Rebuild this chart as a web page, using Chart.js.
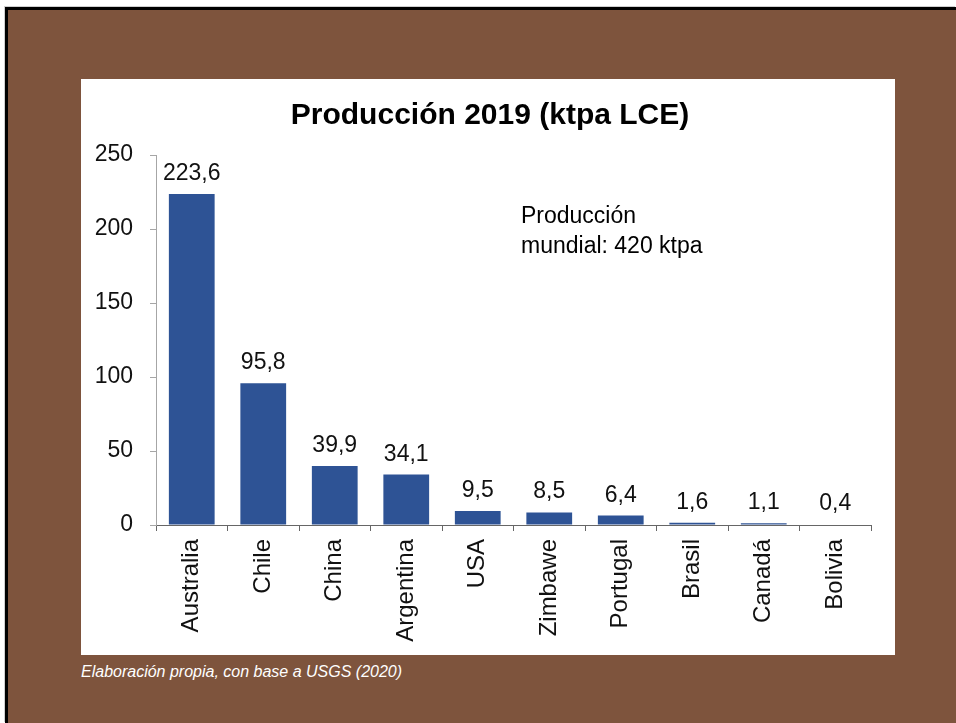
<!DOCTYPE html>
<html>
<head>
<meta charset="utf-8">
<script src="https://cdn.jsdelivr.net/npm/chart.js@4/dist/chart.umd.min.js"></script>
<style>
  html, body { margin: 0; padding: 0; background: #ffffff; width: 956px; height: 723px; overflow: hidden; }
  #frame {
    position: absolute; left: 5px; top: 7px; right: 0; bottom: 0;
    background: #7E543D;
    border-top: 3px solid #000; border-left: 3px solid #000;
    box-shadow: -1px -1px 0 #cfcfcf;
  }
  #panel { position: absolute; left: 81px; top: 79px; width: 814px; height: 576px; background: #ffffff; }
  #caption {
    position: absolute; left: 81px; top: 662px;
    font-family: 'Liberation Sans', Arial, sans-serif; font-style: italic; font-size: 16px;
    color: #ffffff; white-space: nowrap; line-height: 20px;
  }
</style>
</head>
<body>
<div id="frame"></div>
<div id="panel"><canvas id="c" width="814" height="576"></canvas></div>
<div id="caption">Elaboración propia, con base a USGS (2020)</div>
<script>
const categories = ['Australia', 'Chile', 'China', 'Argentina', 'USA', 'Zimbawe', 'Portugal', 'Brasil', 'Canadá', 'Bolivia'];
const production = [223.6, 95.8, 39.9, 34.1, 9.5, 8.5, 6.4, 1.6, 1.1, 0.4];
const yTickValues = [0, 50, 100, 150, 200, 250];
const chartTitle = 'Producción 2019 (ktpa LCE)';
const noteLines = ['Producción', 'mundial: 420 ktpa'];

const FONT = "'Liberation Sans', Arial, sans-serif";
const fmt = v => v.toFixed(1).replace('.', ',');

const textPlugin = {
  id: 'textPlugin',
  afterDatasetsDraw(chart) {
    const ctx = chart.ctx;
    ctx.save();
    // data labels
    const meta = chart.getDatasetMeta(0);
    ctx.fillStyle = '#111111';
    ctx.font = '23px ' + FONT;
    ctx.textAlign = 'center';
    ctx.textBaseline = 'alphabetic';
    meta.data.forEach((bar, i) => {
      ctx.fillText(fmt(production[i]), bar.x, bar.y - 14);
    });
    // title
    ctx.font = 'bold 30px ' + FONT;
    ctx.fillStyle = '#000000';
    ctx.textBaseline = 'middle';
    ctx.fillText(chartTitle, chart.width / 2 + 2, 37);
    // annotation
    ctx.font = '23px ' + FONT;
    ctx.textAlign = 'left';
    ctx.textBaseline = 'alphabetic';
    ctx.fillText(noteLines[0], 440, 144);
    ctx.fillText(noteLines[1], 440, 174);
    ctx.restore();
  }
};

new Chart(document.getElementById('c'), {
  type: 'bar',
  data: {
    labels: categories,
    datasets: [{
      data: production,
      backgroundColor: '#2E5395',
      borderWidth: 0,
      barPercentage: 0.64,
      categoryPercentage: 1.0
    }]
  },
  options: {
    responsive: false,
    animation: false,
    layout: { padding: { top: 76, right: 24, left: 0, bottom: 0 } },
    plugins: { legend: { display: false }, title: { display: false }, tooltip: { enabled: false } },
    scales: {
      x: {
        afterFit: s => { s.height = 130; },
        grid: { display: true, drawOnChartArea: false, drawTicks: true, tickLength: 6, color: '#666666', offset: true },
        border: { display: true, color: '#666666', width: 1 },
        ticks: {
          color: '#111111', font: { family: FONT, size: 24 },
          minRotation: 90, maxRotation: 90, padding: 8, autoSkip: false
        }
      },
      y: {
        min: 0, max: 250,
        afterFit: s => { s.width = 75; },
        afterBuildTicks: s => { s.ticks = yTickValues.map(v => ({ value: v })); },
        grid: { display: true, drawOnChartArea: false, drawTicks: true, tickLength: 6, color: '#A6A6A6' },
        border: { display: true, color: '#A6A6A6', width: 1 },
        ticks: { color: '#111111', font: { family: FONT, size: 23 }, padding: 17, stepSize: 50 }
      }
    }
  },
  plugins: [textPlugin]
});
</script>
</body>
</html>
